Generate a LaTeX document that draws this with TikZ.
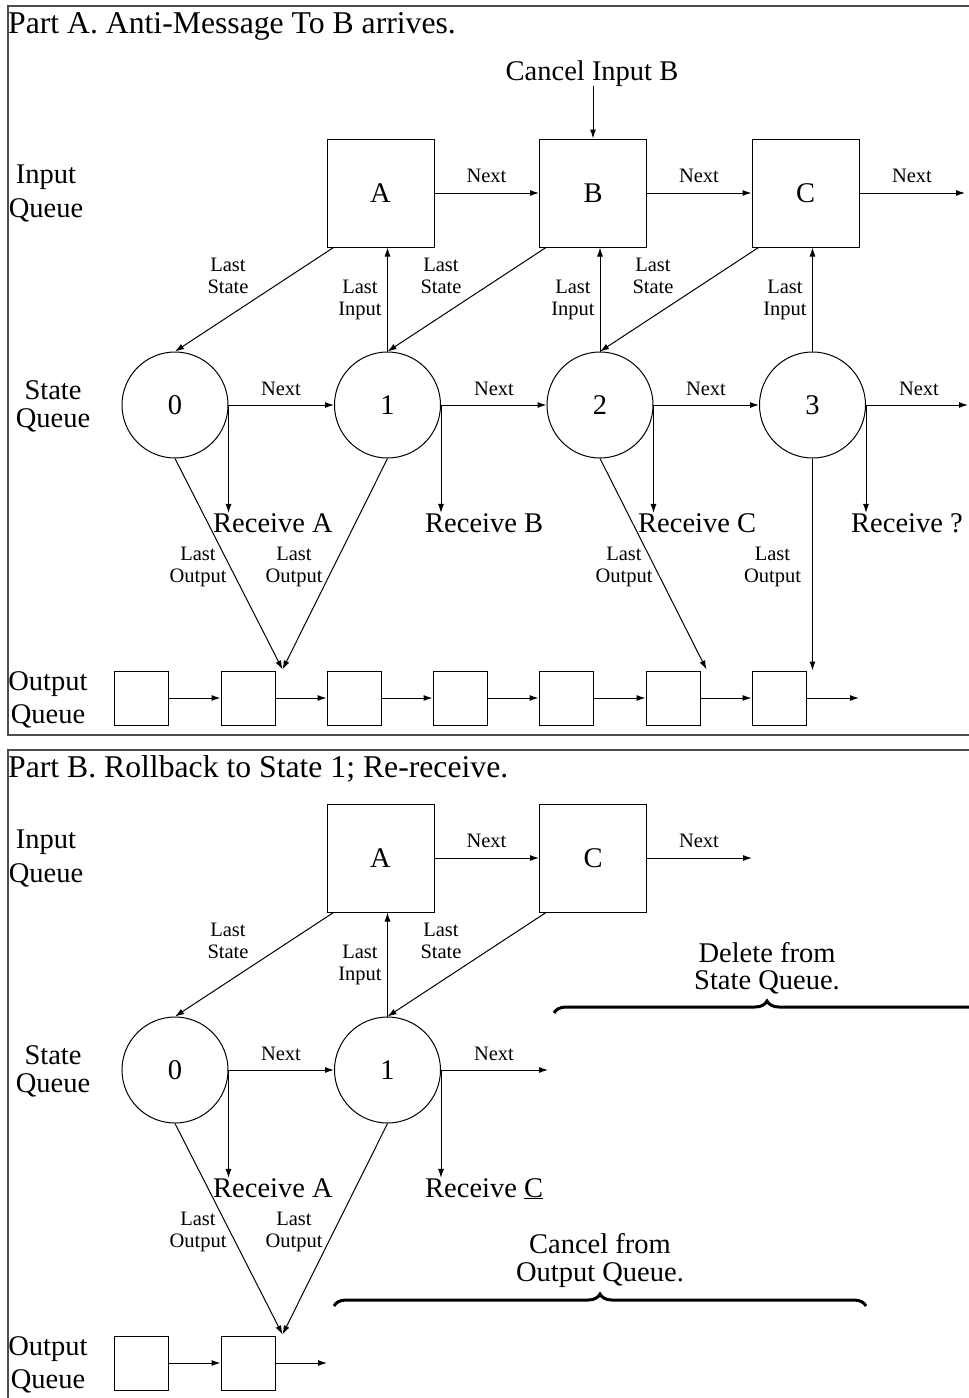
\documentclass[tikz,border=0pt]{standalone}
\usepackage{fontspec}
\setmainfont{Liberation Serif}
\usetikzlibrary{arrows.meta,calc,decorations.pathreplacing}
\begin{document}
\begin{tikzpicture}[x=1pt,y=1pt,
  bigf/.style={font=\fontsize{28.5}{34}\selectfont},
  smallf/.style={font=\fontsize{20.5}{22}\selectfont},
  lbl/.style={smallf,inner sep=0pt,align=center,anchor=base},
  txt/.style={bigf,inner sep=0pt,anchor=base},
  head/.style={font=\fontsize{31.7}{36}\selectfont,inner sep=0pt,anchor=base west},
  qbox/.style={draw,line width=1pt,minimum width=107pt,minimum height=108pt,inner sep=0pt,bigf},
  snode/.style={draw,circle,line width=1pt,minimum size=106pt,inner sep=0pt,bigf},
  obox/.style={draw,line width=1pt,minimum size=54pt,inner sep=0pt},
  arr/.style={-{Latex[length=9pt,width=6pt]},line width=1pt},
  framel/.style={line width=1.5pt,draw=black!70},
  brc/.style={decorate,decoration={brace,amplitude=12pt},line width=3pt},
  qlab/.style={bigf,inner sep=0pt,align=center,anchor=base},
]
\useasboundingbox (0,0) rectangle (969,-1398);

% ---------------- frames and titles ----------------
\draw[framel] (969,-6) -- (8,-6) -- (8,-735) -- (969,-735);
\draw[framel] (969,-750) -- (8,-750) -- (8,-1400);
\node[head] (tA) at (8,-33) {Part A. Anti-Message To B arrives.};
\node[head] (tB) at (8,-777) {Part B. Rollback to State 1; Re-receive.};

% ================= PART A =================
% (multi-line nodes are placed at the baseline of their last line)
\node[qlab,font=\fontsize{28.5}{34}\selectfont] (iqA) at (46,-217) {Input\\Queue};
\node[qlab,font=\fontsize{28.5}{28}\selectfont] (sqA) at (53,-427) {State\\Queue};
\node[qlab,font=\fontsize{28.5}{33}\selectfont] (oqA) at (48,-723) {Output\\Queue};

\node[qbox] (a1) at (380.5,-193) {A};
\node[qbox] (b1) at (593,-193) {B};
\node[qbox] (c1) at (805.5,-193) {C};
\coordinate (c1n) at (965,-193);

\node[txt] (cib) at (592,-80) {Cancel Input B};
\draw[arr] (b1.north |- cib.south) -- (b1.north);

\draw[arr] (a1.east) -- (b1.west);
\draw[arr] (b1.east) -- (c1.west);
\draw[arr] (c1.east) -- (c1n);
\node[lbl] (nA1) at (486.5,-182) {Next};
\node[lbl] (nA2) at (699,-182) {Next};
\node[lbl] (nA3) at (912,-182) {Next};

\node[snode] (s0) at (175,-405) {0};
\node[snode] (s1) at (387.5,-405) {1};
\node[snode] (s2) at (600,-405) {2};
\node[snode] (s3) at (812.5,-405) {3};
\coordinate (s3n) at (968,-405);

\draw[arr] (s0.east) -- (s1.west);
\draw[arr] (s1.east) -- (s2.west);
\draw[arr] (s2.east) -- (s3.west);
\draw[arr] (s3.east) -- (s3n);
\node[lbl] (nS1) at (281,-395) {Next};
\node[lbl] (nS2) at (494,-395) {Next};
\node[lbl] (nS3) at (706,-395) {Next};
\node[lbl] (nS4) at (919,-395) {Next};

\draw[arr] ($(a1.south west)+(7,0)$) -- (s0.north);
\draw[arr] ($(b1.south west)+(7,0)$) -- (s1.north);
\draw[arr] ($(c1.south west)+(7,0)$) -- (s2.north);
\draw[arr] (s1.north) -- (s1.north |- a1.south);
\draw[arr] (s2.north) -- (s2.north |- b1.south);
\draw[arr] (s3.north) -- (s3.north |- c1.south);
\node[lbl] (ls1) at (228,-293) {Last\\State};
\node[lbl] (ls2) at (441,-293) {Last\\State};
\node[lbl] (ls3) at (653,-293) {Last\\State};
\node[lbl] (li1) at (360,-315) {Last\\Input};
\node[lbl] (li2) at (573,-315) {Last\\Input};
\node[lbl] (li3) at (785,-315) {Last\\Input};

\node[txt,anchor=base west] (r0) at (213,-532) {Receive A};
\node[txt,anchor=base west] (r1) at (425,-532) {Receive B};
\node[txt,anchor=base west] (r2) at (638,-532) {Receive C};
\node[txt,anchor=base west] (r3) at (851,-532) {Receive ?};
\draw[arr] (s0.east) -- (s0.east |- r0.north);
\draw[arr] (s1.east) -- (s1.east |- r1.north);
\draw[arr] (s2.east) -- (s2.east |- r2.north);
\draw[arr] (s3.east) -- (s3.east |- r3.north);

\foreach \i/\x in {1/141,2/248,3/354,4/460,5/566,6/673,7/779}
  \node[obox] (o\i) at (\x,-698) {};
\foreach \i/\j in {1/2,2/3,3/4,4/5,5/6,6/7}
  \draw[arr] (o\i.east) -- (o\j.west);
\coordinate (o7n) at (859,-698);
\draw[arr] (o7.east) -- (o7n);

\coordinate (o2t) at ($(o2.north east)+(7,1)$);
\coordinate (o6t) at ($(o6.north east)+(6,1)$);
\coordinate (o7t) at (s3.south |- o7.north);
\draw[arr] (s0.south) -- (o2t);
\draw[arr] (s1.south) -- (o2t);
\draw[arr] (s2.south) -- (o6t);
\draw[arr] (s3.south) -- (o7t);
\node[lbl] (lo1) at (198,-582) {Last\\Output};
\node[lbl] (lo2) at (294,-582) {Last\\Output};
\node[lbl] (lo3) at (624,-582) {Last\\Output};
\node[lbl] (lo4) at (772.5,-582) {Last\\Output};

% ================= PART B =================
\begin{scope}[yshift=-665pt]
\node[qlab,font=\fontsize{28.5}{34}\selectfont] (iqB) at (46,-217) {Input\\Queue};
\node[qlab,font=\fontsize{28.5}{28}\selectfont] (sqB) at (53,-427) {State\\Queue};
\node[qlab,font=\fontsize{28.5}{33}\selectfont] (oqB) at (48,-723) {Output\\Queue};

\node[qbox] (a2) at (380.5,-193) {A};
\node[qbox] (c2) at (593,-193) {C};
\coordinate (c2n) at (752,-193);
\draw[arr] (a2.east) -- (c2.west);
\draw[arr] (c2.east) -- (c2n);
\node[lbl] (nB1) at (486.5,-182) {Next};
\node[lbl] (nB2) at (699,-182) {Next};

\node[snode] (t0) at (175,-405) {0};
\node[snode] (t1) at (387.5,-405) {1};
\coordinate (t1n) at (548,-405);
\draw[arr] (t0.east) -- (t1.west);
\draw[arr] (t1.east) -- (t1n);
\node[lbl] (nT1) at (281,-395) {Next};
\node[lbl] (nT2) at (494,-395) {Next};

\draw[arr] ($(a2.south west)+(7,0)$) -- (t0.north);
\draw[arr] ($(c2.south west)+(7,0)$) -- (t1.north);
\draw[arr] (t1.north) -- (t1.north |- a2.south);
\node[lbl] (ms1) at (228,-293) {Last\\State};
\node[lbl] (ms2) at (441,-293) {Last\\State};
\node[lbl] (mi1) at (360,-315) {Last\\Input};

\node[txt,anchor=base west] (q0) at (213,-532) {Receive A};
\node[txt,anchor=base west] (q1) at (425,-532) {Receive \underline{C}};
\draw[arr] (t0.east) -- (t0.east |- q0.north);
\draw[arr] (t1.east) -- (t1.east |- q1.north);

\node[obox] (p1) at (141,-698) {};
\node[obox] (p2) at (248,-698) {};
\coordinate (p2n) at (327,-698);
\draw[arr] (p1.east) -- (p2.west);
\draw[arr] (p2.east) -- (p2n);
\coordinate (p2t) at ($(p2.north east)+(7,1)$);
\draw[arr] (t0.south) -- (p2t);
\draw[arr] (t1.south) -- (p2t);
\node[lbl] (mo1) at (198,-582) {Last\\Output};
\node[lbl] (mo2) at (294,-582) {Last\\Output};
\end{scope}

% braces
\node[qlab,font=\fontsize{28.5}{27}\selectfont] (del) at (767,-989) {Delete from\\State Queue.};
\coordinate (dl) at (554,-1013);
\coordinate (dr) at (980,-1013);
\draw[brc] (dl) -- (dr);
\node[qlab,font=\fontsize{28.5}{28}\selectfont] (can) at (600,-1281) {Cancel from\\Output Queue.};
\coordinate (cl) at (334,-1306);
\coordinate (cr) at (866,-1306);
\draw[brc] (cl) -- (cr);
\end{tikzpicture}
\end{document}
